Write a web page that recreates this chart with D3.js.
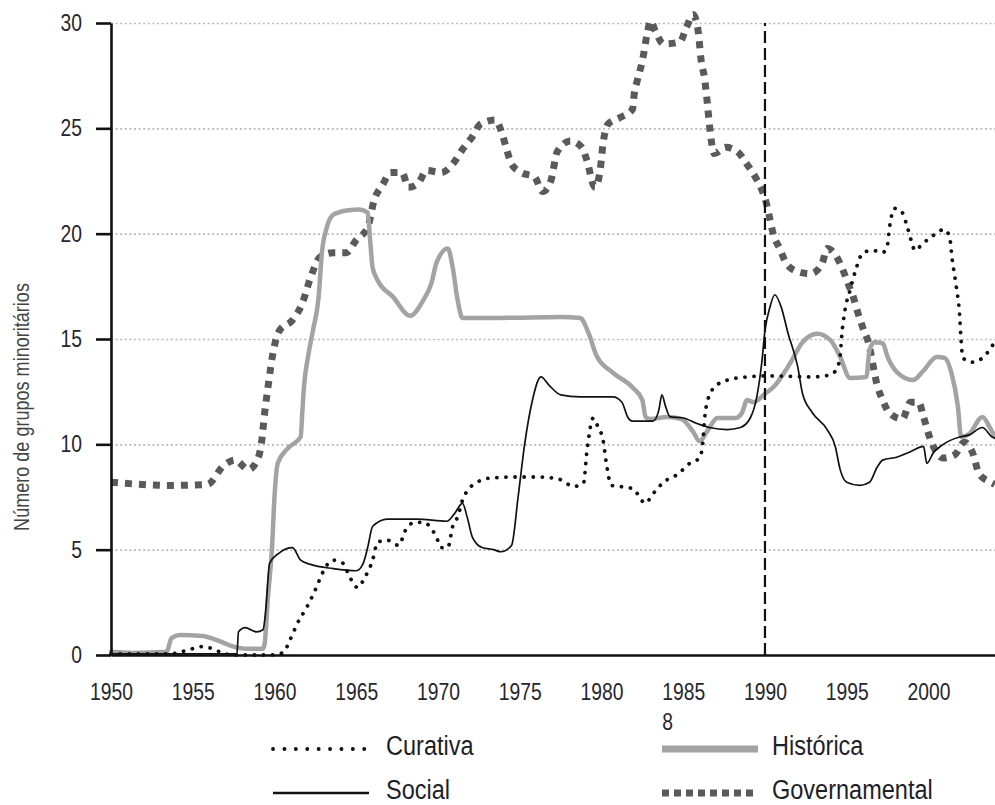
<!DOCTYPE html>
<html>
<head>
<meta charset="utf-8">
<script src="https://cdn.jsdelivr.net/npm/d3@7"></script>
<style>
  body { margin: 0; background: #fff; }
  text { font-family: "Liberation Sans", Arial, sans-serif; }
</style>
</head>
<body>
<div id="chart"></div>
<script>
// series names (legend order)
const seriesNames = ["Curativa", "Histórica", "Social", "Governamental"];

const yearTicks = [1950, 1955, 1960, 1965, 1970, 1975, 1980, 1985, 1990, 1995, 2000];
const valueTicks = [0, 5, 10, 15, 20, 25, 30];
const markYear = 1990;

// [ano, número de grupos]
const curativa = [
    [1950, 0.05], [1953.6, 0.05], [1954.3, 0.15], [1955, 0.3], [1955.6, 0.4], [1956.2, 0.3],
    [1956.8, 0.1], [1957.5, 0], [1959.8, 0], [1960.5, 0.1], [1961, 0.8], [1961.4, 1.5],
    [1962, 2.3], [1962.5, 3.1], [1962.8, 3.65], [1963, 4.0], [1963.6, 4.5], [1964.2, 4.35],
    [1964.6, 3.7], [1965.1, 3.2], [1965.5, 3.65], [1966, 4.5], [1966.3, 5.35], [1966.9, 5.45],
    [1967.6, 5.2], [1968, 5.9], [1968.6, 6.3], [1969.1, 6.3], [1969.6, 6.0], [1969.9, 5.6],
    [1970.2, 5.1], [1970.6, 5.1], [1970.9, 6.1], [1971.2, 6.55], [1971.5, 7.35], [1971.8, 7.8],
    [1972.4, 8.2], [1973.2, 8.4], [1974.8, 8.45], [1976.1, 8.45], [1977.4, 8.35], [1978.3, 8.0],
    [1978.9, 8.15], [1979.1, 9.6], [1979.5, 11.25], [1979.8, 10.8], [1980.1, 10.2], [1980.3, 9.1],
    [1980.6, 8.05], [1981.1, 8.0], [1981.9, 7.9], [1982.7, 7.2], [1983.1, 7.6], [1983.8, 8.2],
    [1984.7, 8.6], [1985.4, 9.1], [1986, 9.35], [1986.2, 10.1], [1986.3, 11.15], [1986.5, 12.1],
    [1986.9, 12.7], [1987.7, 13.05], [1988.9, 13.2], [1990.3, 13.25], [1992.9, 13.2], [1994, 13.3],
    [1994.4, 13.6], [1994.6, 14.2], [1994.7, 15.2], [1994.9, 16.4], [1995.2, 17.3], [1995.6, 18.4],
    [1996, 19.1], [1996.6, 19.2], [1997.2, 19.1], [1997.5, 19.5], [1997.6, 20.2], [1997.95, 21.2],
    [1998.4, 21.0], [1998.75, 20.2], [1999.2, 19.2], [1999.6, 19.5], [2000.1, 19.8], [2001, 20.2],
    [2001.3, 19.8], [2001.45, 18.8], [2001.7, 17.5], [2001.9, 16.2], [2002, 14.9], [2002.1, 14.1],
    [2002.7, 13.9], [2003.3, 14.1], [2004.05, 14.85]
];

const historica = [
    [1950, 0.15], [1951.3, 0.1], [1953.4, 0.15], [1953.7, 0.8], [1954.2, 0.95], [1955.6, 0.9],
    [1956.5, 0.7], [1957.5, 0.4], [1958.3, 0.3], [1959.3, 0.3], [1959.4, 0.55], [1959.6, 2.75],
    [1959.85, 5.1], [1960, 7.5], [1960.2, 9.1], [1960.8, 9.8], [1961.6, 10.35], [1961.7, 11.5],
    [1961.8, 12.7], [1962.05, 14.15], [1962.35, 15.4], [1962.7, 17.0], [1962.9, 19.1], [1963.2, 20.3],
    [1963.6, 20.9], [1964.4, 21.1], [1965.2, 21.15], [1965.7, 21.0], [1965.85, 19.7], [1966, 18.4],
    [1966.3, 17.8], [1967.25, 17.0], [1968.3, 16.1], [1969.1, 16.85], [1969.6, 17.65], [1969.9, 18.6],
    [1970.6, 19.3], [1970.9, 18.4], [1971.2, 16.85], [1971.5, 16.0], [1973.8, 16.0], [1977.5, 16.05],
    [1978.7, 16.0], [1979.2, 15.3], [1979.7, 14.2], [1980.7, 13.4], [1981.9, 12.7], [1982.5, 12.1],
    [1982.7, 11.3], [1983, 11.2], [1984, 11.3], [1984.9, 11.2], [1985.6, 10.6], [1986, 10.15],
    [1986.45, 10.6], [1987.1, 11.25], [1988.2, 11.25], [1988.6, 11.5], [1988.9, 12.1], [1989.3, 12.0],
    [1990, 12.4], [1990.5, 12.7], [1991.5, 13.8], [1992.3, 14.85], [1993.2, 15.25], [1994, 14.95],
    [1994.6, 14.15], [1995.2, 13.15], [1996.2, 13.2], [1996.4, 14.5], [1996.7, 14.85], [1997.2, 14.8],
    [1997.5, 14.15], [1998.1, 13.4], [1999.05, 13.05], [1999.7, 13.5], [2000.5, 14.15], [2001, 14.1],
    [2001.4, 13.4], [2001.8, 11.8], [2002, 10.35], [2002.5, 10.5], [2003.3, 11.3], [2003.75, 10.8],
    [2004.05, 10.35]
];

const social = [
    [1950, 0.05], [1957.7, 0.05], [1957.8, 1.1], [1958.2, 1.3], [1958.9, 1.1], [1959.3, 1.2],
    [1959.45, 2.0], [1959.7, 4.35], [1960.3, 4.85], [1961.1, 5.1], [1961.6, 4.5], [1962.2, 4.3],
    [1963.6, 4.1], [1965, 4.0], [1965.4, 4.3], [1965.7, 5.1], [1966, 6.1], [1966.9, 6.45],
    [1968.7, 6.45], [1970.55, 6.35], [1971, 6.7], [1971.5, 7.2], [1971.8, 6.5], [1972.1, 5.6],
    [1972.7, 5.1], [1973.4, 5.0], [1973.85, 4.9], [1974.5, 5.2], [1974.9, 7.5], [1975.3, 10.0],
    [1975.75, 12.0], [1976.3, 13.2], [1976.8, 12.8], [1977.5, 12.35], [1978.7, 12.25], [1980.7, 12.25],
    [1981.25, 12.0], [1981.6, 11.3], [1981.9, 11.1], [1983.15, 11.1], [1983.5, 11.6], [1983.7, 12.35],
    [1983.9, 11.85], [1984.2, 11.3], [1985, 11.25], [1985.8, 11.0], [1986.6, 10.8], [1987.7, 10.7],
    [1988.5, 10.8], [1989.1, 11.25], [1989.5, 12.25], [1989.8, 13.85], [1990, 15.4], [1990.3, 16.5],
    [1990.6, 17.1], [1991, 16.5], [1991.4, 15.3], [1992, 13.7], [1992.3, 12.4], [1992.9, 11.5],
    [1993.8, 10.7], [1994.3, 9.9], [1994.6, 8.8], [1995, 8.2], [1995.8, 8.05], [1996.4, 8.2],
    [1996.85, 8.9], [1997.2, 9.25], [1998.1, 9.4], [1998.9, 9.65], [1999.7, 9.9], [1999.9, 9.1],
    [2000.3, 9.6], [2000.9, 10.0], [2001.9, 10.35], [2002.5, 10.45], [2003.3, 10.8], [2003.9, 10.35],
    [2004.05, 10.3]
];

const governamental = [
    [1950, 8.2], [1953.6, 8.05], [1955.9, 8.1], [1956.9, 9.0], [1957.6, 9.25], [1958.4, 8.8],
    [1959, 9.35], [1959.2, 10.05], [1959.4, 11.5], [1959.6, 12.7], [1959.9, 14.3], [1960.3, 15.4],
    [1961.1, 15.9], [1961.7, 16.7], [1962.2, 17.9], [1962.8, 18.9], [1963.6, 19.1], [1964.4, 19.1],
    [1965, 19.7], [1965.7, 20.3], [1966.1, 21.6], [1966.6, 22.3], [1967.1, 22.9], [1967.8, 22.9],
    [1968.2, 22.2], [1968.8, 22.4], [1969.3, 23.0], [1970.2, 22.9], [1970.9, 23.3], [1971.5, 24.0],
    [1972.1, 24.6], [1972.6, 25.2], [1973.5, 25.4], [1973.9, 24.8], [1974.2, 24.0], [1974.5, 23.3],
    [1975.1, 22.9], [1975.9, 22.7], [1976.4, 22.0], [1976.9, 22.5], [1977.3, 23.9], [1978.1, 24.4],
    [1978.8, 24.1], [1979.1, 23.5], [1979.6, 22.2], [1979.9, 22.9], [1980.1, 24.3], [1980.4, 25.2],
    [1981.1, 25.5], [1981.9, 25.9], [1982, 26.6], [1982.2, 27.3], [1982.5, 28.2], [1982.8, 29.5],
    [1983, 30.1], [1983.3, 29.6], [1983.8, 29.0], [1984.8, 29.1], [1985.2, 29.8], [1985.6, 30.4],
    [1985.9, 29.7], [1986.1, 28.2], [1986.3, 27.4], [1986.5, 26.0], [1986.6, 25.2], [1986.9, 23.8],
    [1987.6, 24.1], [1988.3, 23.9], [1988.9, 23.3], [1989.4, 22.7], [1989.8, 22.1], [1990.1, 21.4],
    [1990.3, 20.7], [1990.5, 20.0], [1990.9, 19.3], [1991.3, 18.6], [1992, 18.2], [1992.8, 18.1],
    [1993.5, 18.6], [1993.8, 19.3], [1994.3, 19.0], [1994.7, 18.4], [1995.1, 17.6], [1995.4, 17.0],
    [1995.7, 16.2], [1996, 15.5], [1996.3, 14.9], [1996.9, 12.7], [1997.2, 12.1], [1997.6, 11.5],
    [1998.4, 11.2], [1998.9, 12.0], [1999.4, 12.0], [1999.7, 11.3], [2000, 10.5], [2000.3, 9.9],
    [2000.9, 9.35], [2001.6, 9.5], [2002.2, 10.1], [2002.7, 9.6], [2003.1, 8.6], [2003.8, 8.2],
    [2004.05, 8.1]
];

// narrow look (like Arial Narrow) by squeezing Liberation Sans horizontally
const NARROW = 0.84;

function createChart() {
    const w = 995;
    const h = 805;
    const left = 111;
    const right = 995;
    const top = 23;
    const bottom = 655;

    const svg = d3.select("#chart")
        .append("svg")
        .attr("width", w)
        .attr("height", h);

    /* SCALES */
    const xScale = d3.scaleLinear().domain([1950, 2004.07]).range([left, right]);
    const yScale = d3.scaleLinear().domain([0, 30]).range([bottom, top]);

    /* GRID */
    svg.append("g")
        .attr("class", "grid")
        .attr("transform", "translate(" + left + ",0)")
        .call(d3.axisLeft(yScale)
            .tickValues(valueTicks.slice(1))
            .tickSize(-(right - left))
            .tickFormat(""))
        .call(g => g.select(".domain").remove())
        .selectAll("line")
        .attr("stroke", "#b8b8b8")
        .attr("stroke-width", 1.6)
        .attr("stroke-dasharray", "2,2.6");

    /* LINES */
    const line = d3.line()
        .x(d => xScale(d[0]))
        .y(d => yScale(d[1]))
        .curve(d3.curveMonotoneX);

    const styles = {
        "Curativa": { data: curativa, stroke: "#111", width: 3.8, dash: "0.1,9", cap: "round" },
        "Histórica": { data: historica, stroke: "#a3a3a3", width: 4.5, dash: null, cap: "round" },
        "Social": { data: social, stroke: "#111", width: 1.7, dash: null, cap: "round" },
        "Governamental": { data: governamental, stroke: "#5a5a5a", width: 7, dash: "7,7", cap: "butt" }
    };

    const drawOrder = ["Governamental", "Histórica", "Social", "Curativa"];
    drawOrder.forEach(function(name) {
        const s = styles[name];
        svg.append("path")
            .datum(s.data)
            .attr("fill", "none")
            .attr("stroke", s.stroke)
            .attr("stroke-width", s.width)
            .attr("stroke-linecap", s.cap)
            .attr("stroke-linejoin", "round")
            .attr("stroke-dasharray", s.dash)
            .attr("d", line);
    });

    /* 1990 MARK */
    svg.append("line")
        .attr("x1", xScale(markYear))
        .attr("x2", xScale(markYear))
        .attr("y1", yScale(0))
        .attr("y2", yScale(30))
        .attr("stroke", "#111")
        .attr("stroke-width", 2.2)
        .attr("stroke-dasharray", "12,5");

    /* AXES */
    const yAxis = svg.append("g")
        .attr("transform", "translate(" + left + ",0)")
        .call(d3.axisLeft(yScale)
            .tickValues(valueTicks)
            .tickSize(15)
            .tickSizeOuter(0)
            .tickPadding(14));
    yAxis.select(".domain").attr("stroke", "#111").attr("stroke-width", 2.6);
    yAxis.selectAll(".tick line").attr("stroke", "#111").attr("stroke-width", 2.6);
    yAxis.selectAll(".tick text")
        .attr("x", 0)
        .attr("transform", "translate(-29,0) scale(" + NARROW + ",1)")
        .style("font-size", "23px")
        .attr("fill", "#26262e");

    const xAxis = svg.append("g")
        .attr("transform", "translate(0," + bottom + ")")
        .call(d3.axisBottom(xScale)
            .tickValues(yearTicks)
            .tickSize(0)
            .tickSizeOuter(0)
            .tickPadding(29)
            .tickFormat(d3.format("d")));
    xAxis.select(".domain").attr("stroke", "#111").attr("stroke-width", 2.6);
    xAxis.selectAll(".tick text")
        .attr("transform", "scale(" + NARROW + ",1)")
        .style("font-size", "23px")
        .attr("fill", "#26262e");

    // stray "8" under 1985 in the original
    svg.append("text")
        .attr("transform", "translate(" + (xScale(1985) - 21) + ",730) scale(" + NARROW + ",1)")
        .style("font-size", "23px")
        .attr("fill", "#26262e")
        .text("8");

    /* AXIS TITLE */
    svg.append("text")
        .attr("transform", "translate(29,407) rotate(-90) scale(" + NARROW + ",1)")
        .style("text-anchor", "middle")
        .style("font-size", "21.5px")
        .attr("fill", "#444")
        .text("Número de  grupos minoritários");

    /* LEGEND */
    const legendPos = [
        { sx: 273, tx: 386, y: 749 },
        { sx: 662, tx: 772, y: 749 },
        { sx: 273, tx: 386, y: 793 },
        { sx: 662, tx: 772, y: 793 }
    ];
    seriesNames.forEach(function(name, i) {
        const s = styles[name];
        const p = legendPos[i];
        const item = svg.append("g");
        item.append("line")
            .attr("x1", p.sx)
            .attr("x2", p.sx + 96)
            .attr("y1", p.y)
            .attr("y2", p.y)
            .attr("stroke", s.stroke)
            .attr("stroke-width", name === "Histórica" ? 7 : (name === "Social" ? 2.4 : s.width))
            .attr("stroke-linecap", name === "Curativa" ? "round" : "butt")
            .attr("stroke-dasharray", name === "Curativa" ? "0.1,11.3" : (name === "Governamental" ? "7,5" : null));
        item.append("text")
            .attr("transform", "translate(" + p.tx + "," + (p.y + 6) + ") scale(" + NARROW + ",1)")
            .style("font-size", "28px")
            .attr("fill", "#1e1e28")
            .text(name);
    });
}

createChart();
</script>
</body>
</html>
